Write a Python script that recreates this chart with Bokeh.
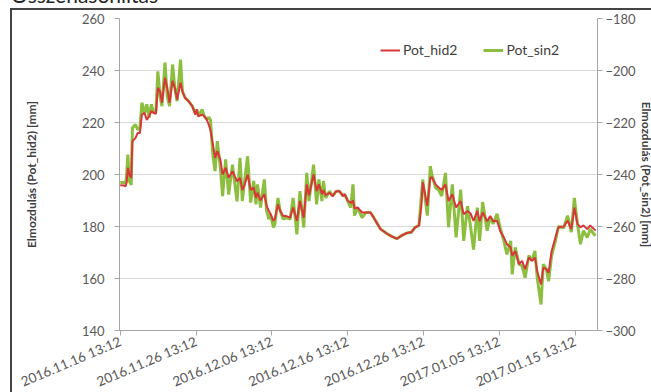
import pandas as pd
from bokeh.plotting import figure
from bokeh.layouts import column
from bokeh.models import (Range1d, LinearAxis, FixedTicker, DatetimeTickFormatter,
                          Legend, LegendItem, ColumnDataSource, Div)
from bokeh.embed import file_html
from bokeh.resources import INLINE

start = pd.Timestamp("2016-11-16 13:12")

days = [
    0.0, 0.4, 0.7, 0.85, 1.0, 1.2, 1.45, 1.6,
    2.0, 2.3, 2.6, 2.85, 3.2, 3.5, 3.8, 4.1,
    4.4, 4.7, 4.96, 5.25, 5.5, 5.9, 6.2, 6.5,
    6.9, 7.2, 7.5, 7.95, 8.2, 8.55, 9.0, 9.5,
    9.9, 10.1, 10.3, 10.8, 11.1, 11.4, 11.7, 11.9,
    12.2, 12.5, 12.8, 13.2, 13.5, 13.9, 14.3, 14.8,
    15.4, 15.8, 16.1, 16.4, 16.8, 17.2, 17.6, 17.9,
    18.1, 18.5, 19.0, 19.3, 19.6, 19.8, 20.2, 20.4,
    20.8, 21.1, 21.5, 21.9, 22.4, 22.8, 23.3, 23.7,
    24.2, 24.6, 24.9, 25.5, 25.9, 26.2, 26.6, 26.8,
    27.1, 27.6, 28.0, 28.5, 28.9, 29.4, 29.6, 30.0,
    30.4, 30.7, 30.9, 31.3, 31.9, 32.4, 33.0, 33.4,
    34.3, 35.2, 35.8, 36.5, 37.1, 37.8, 38.4, 38.9,
    39.4, 39.7, 39.9, 40.1, 40.5, 40.9, 41.1, 41.6,
    42.0, 42.4, 42.9, 43.3, 43.8, 44.3, 44.9, 45.3,
    45.8, 46.2, 46.6, 47.1, 47.4, 47.8, 48.4, 48.8,
    49.2, 49.7, 50.1, 50.6, 51.0, 51.5, 51.7, 52.1,
    52.6, 53.0, 53.4, 53.9, 54.3, 54.7, 55.0, 55.5,
    55.8, 56.2, 56.5, 56.9, 57.4, 57.8, 58.5, 59.0,
    59.5, 59.9, 60.3, 60.7, 61.1, 61.6, 62.0, 62.5,
    62.7,
]

hid2 = [
    195.9, 195.8, 195.5, 197.0, 202.6, 200.0, 198.7, 212.8,
    214.0, 216.0, 216.0, 223.0, 223.7, 221.0, 222.4, 224.4,
    223.7, 223.3, 233.3, 232.0, 227.6, 237.2, 233.3, 227.6,
    236.0, 233.3, 228.8, 235.3, 232.0, 229.5, 228.2, 226.3,
    223.0, 225.0, 222.4, 223.0, 222.4, 221.2, 219.0, 217.0,
    212.0, 206.4, 209.0, 205.8, 200.0, 202.6, 198.7, 201.3,
    197.4, 198.7, 194.0, 196.0, 200.0, 194.0, 195.0, 191.0,
    193.0, 190.0, 192.4, 188.0, 186.0, 185.0, 182.2, 183.0,
    188.5, 186.0, 184.0, 184.0, 183.4, 187.3, 182.2, 189.8,
    183.4, 196.2, 192.0, 200.0, 193.6, 196.2, 192.4, 194.0,
    192.0, 193.0, 191.7, 193.6, 193.6, 191.7, 192.4, 190.0,
    189.0, 190.0, 187.0, 187.3, 185.4, 185.4, 185.4, 183.6,
    179.1, 177.2, 176.2, 175.3, 176.5, 177.5, 177.8, 179.7,
    180.4, 187.3, 197.0, 194.0, 188.0, 198.7, 199.0, 196.2,
    195.0, 194.0, 196.2, 189.8, 192.4, 187.3, 189.8, 184.7,
    186.0, 185.0, 182.2, 186.0, 182.0, 185.4, 182.0, 184.0,
    182.0, 182.2, 178.4, 175.8, 173.2, 172.0, 168.8, 170.6,
    165.5, 166.8, 163.6, 168.1, 166.8, 168.0, 162.8, 157.7,
    164.2, 163.6, 162.2, 170.6, 175.8, 179.7, 180.0, 182.2,
    179.0, 187.3, 181.0, 179.7, 180.4, 179.0, 180.4, 179.0,
    178.4,
]

sin2 = [
    -243.2, -243.0, -243.5, -240.0, -232.3, -242.6, -244.0, -222.0,
    -220.8, -222.7, -222.0, -212.4, -216.3, -213.0, -218.2, -213.0,
    -216.3, -216.0, -200.3, -210.0, -213.7, -197.0, -210.0, -213.7,
    -197.7, -206.7, -211.8, -195.8, -208.0, -210.5, -211.8, -213.7,
    -216.3, -215.0, -217.6, -215.0, -217.6, -218.8, -218.0, -219.0,
    -232.0, -238.7, -227.2, -237.4, -248.3, -234.2, -247.7, -236.2,
    -250.3, -233.6, -250.2, -242.5, -233.0, -250.8, -242.5, -251.5,
    -243.8, -252.7, -241.9, -254.0, -257.2, -255.3, -260.4, -259.0,
    -249.0, -254.0, -257.2, -256.6, -257.2, -249.0, -263.0, -246.4,
    -260.4, -239.4, -250.2, -236.2, -251.5, -241.9, -250.2, -242.5,
    -249.0, -246.4, -248.3, -246.4, -246.4, -248.3, -247.6, -250.2,
    -252.7, -243.8, -255.8, -252.7, -256.6, -254.6, -254.6, -256.4,
    -260.9, -262.8, -263.8, -264.7, -263.5, -262.5, -262.2, -260.3,
    -259.6, -249.0, -242.0, -246.4, -255.8, -236.8, -240.0, -245.1,
    -246.0, -248.3, -239.4, -260.3, -243.8, -264.2, -245.8, -265.5,
    -252.2, -259.9, -268.9, -252.7, -265.5, -250.6, -261.6, -256.4,
    -259.0, -255.1, -260.3, -265.5, -270.7, -265.5, -278.4, -268.0,
    -274.5, -275.2, -279.7, -271.2, -273.2, -269.4, -279.7, -290.0,
    -274.5, -276.4, -281.0, -271.2, -265.5, -260.0, -260.5, -255.8,
    -262.2, -249.0, -259.0, -266.8, -261.6, -264.2, -261.0, -263.0,
    -263.5,
]

tick_days = [0, 10, 20, 30, 40, 50, 60]
left_ticks = [140, 160, 180, 200, 220, 240, 260]
right_ticks = [-300, -280, -260, -240, -220, -200, -180]

FONT = "Lato"
RED = "#d9363b"
GREEN = "#8cbf3f"
TXT = "#595959"

times = [start + pd.Timedelta(days=d) for d in days]
src = ColumnDataSource(dict(t=times, hid2=hid2, sin2=sin2))

x0 = start - pd.Timedelta(days=0.1)
x1 = start + pd.Timedelta(days=62.95)

title = Div(text=('<div style="font-family:Lato;font-size:21px;line-height:21px;'
                  'color:#262626;position:relative;top:-16px;padding-left:11px;'
                  'white-space:nowrap">Összehasonlítás</div>'),
            width=651, height=8, height_policy="fixed", width_policy="fixed",
            margin=0, styles={"overflow": "hidden"})

# the chart is a crop: it runs past the right and bottom edges of the window
p = figure(width=645, height=392, x_axis_type="datetime",
           x_range=Range1d(x0, x1), y_range=Range1d(140, 260),
           output_backend="svg", toolbar_location=None,
           min_border_left=107, min_border_right=60,
           min_border_top=8, min_border_bottom=72,
           styles={"border-left": "2px solid #444444",
                   "border-top": "2px solid #444444",
                   "margin-left": "10px"})
p.extra_y_ranges = {"sin": Range1d(-300, -180)}
p.outline_line_color = None
p.background_fill_color = "white"
p.border_fill_color = "white"

p.xgrid.visible = False
p.ygrid.grid_line_color = "#d9d9d9"
p.ygrid.grid_line_width = 1

r_green = p.line("t", "sin2", source=src, y_range_name="sin",
                 line_color=GREEN, line_width=3)
r_red = p.line("t", "hid2", source=src, line_color=RED, line_width=2)

# x axis
xa = p.xaxis[0]
xa.ticker = FixedTicker(ticks=[(start + pd.Timedelta(days=d)).value / 1e6 for d in tick_days])
fmt = "%Y.%m.%d %H:%M"
xa.formatter = DatetimeTickFormatter(microseconds=fmt, milliseconds=fmt, seconds=fmt,
                                     minsec=fmt, minutes=fmt, hourmin=fmt, hours=fmt,
                                     days=fmt, months=fmt, years=fmt)
xa.major_label_orientation = 0.40
xa.minor_tick_line_color = None
xa.major_tick_in = 0
xa.major_tick_out = 5
xa.axis_line_color = "#a6a6a6"
xa.major_tick_line_color = "#a6a6a6"
xa.major_label_text_font = FONT
xa.major_label_text_font_size = "13.5px"
xa.major_label_text_color = TXT
xa.major_label_standoff = 5

# left axis
ya = p.yaxis[0]
ya.ticker = FixedTicker(ticks=left_ticks)
ya.minor_tick_line_color = None
ya.major_tick_in = 0
ya.major_tick_out = 5
ya.axis_line_color = "#a6a6a6"
ya.major_tick_line_color = "#a6a6a6"
ya.major_label_text_font = FONT
ya.major_label_text_font_size = "13px"
ya.major_label_text_color = TXT
ya.major_label_standoff = 10
ya.axis_label = "Elmozdulás (Pot_hid2) [mm]"
ya.axis_label_text_font = FONT
ya.axis_label_text_font_style = "bold"
ya.axis_label_text_font_size = "12px"
ya.axis_label_text_color = "#404040"
ya.axis_label_standoff = 40

# right axis
ra = LinearAxis(y_range_name="sin", ticker=FixedTicker(ticks=right_ticks))
ra.minor_tick_line_color = None
ra.major_tick_in = 0
ra.major_tick_out = 5
ra.axis_line_color = "#a6a6a6"
ra.major_tick_line_color = "#a6a6a6"
ra.major_label_text_font = FONT
ra.major_label_text_font_size = "13px"
ra.major_label_text_color = TXT
ra.major_label_standoff = 3
ra.axis_label = "Elmozdulás (Pot_sin2) [mm]"
ra.axis_label_text_font = FONT
ra.axis_label_text_font_style = "bold"
ra.axis_label_text_font_size = "12px"
ra.axis_label_text_color = "#404040"
ra.axis_label_standoff = 0
try:
    ra.axis_label_orientation = "vertical"
except Exception:
    pass
p.add_layout(ra, "right")

legend = Legend(items=[LegendItem(label="Pot_hid2", renderers=[r_red]),
                       LegendItem(label="Pot_sin2", renderers=[r_green])],
                location=(261, 272), orientation="horizontal",
                border_line_color=None, background_fill_alpha=0,
                padding=0, margin=0, spacing=26, glyph_width=20, glyph_height=14,
                label_standoff=3, label_text_font=FONT,
                label_text_font_size="14px", label_text_color="#404040")
p.add_layout(legend)

layout = column(title, p, spacing=0, width=651, height=392,
                width_policy="fixed", height_policy="fixed",
                styles={"overflow": "hidden"})
open("out.html", "w").write(file_html(layout, INLINE))
